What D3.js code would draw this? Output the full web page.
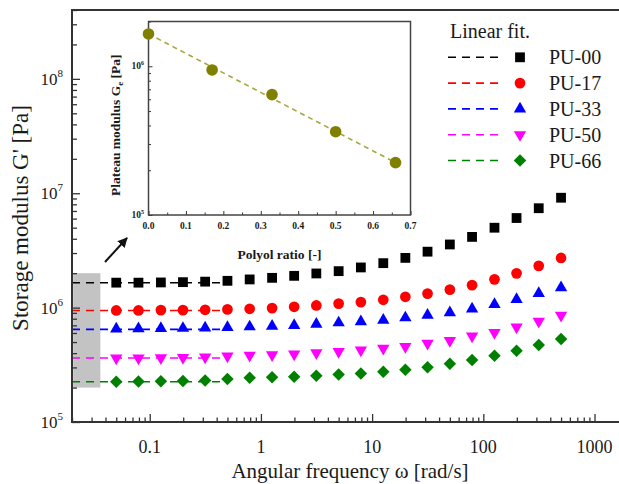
<!DOCTYPE html>
<html><head><meta charset="utf-8">
<script src="https://cdn.jsdelivr.net/npm/d3@7"></script>
<style>
html,body{margin:0;padding:0;background:#fff;}
svg{display:block;}
</style></head>
<body>
<svg id="chart" width="619" height="484" font-family="'Liberation Serif', 'DejaVu Serif', serif"></svg>
<script>
// ---- data ----
const frequencies = [0.05, 0.0792, 0.126, 0.199, 0.315, 0.5, 0.792, 1.26, 1.99, 3.15, 5, 7.92, 12.6, 19.9, 31.5, 50, 79.2, 126, 199, 315, 500];
const seriesNames = ["PU-00", "PU-17", "PU-33", "PU-50", "PU-66"];
const pu00 = [1.653e6, 1.653e6, 1.660e6, 1.670e6, 1.687e6, 1.715e6, 1.764e6, 1.821e6, 1.896e6, 1.989e6, 2.084e6, 2.245e6, 2.447e6, 2.722e6, 3.084e6, 3.565e6, 4.153e6, 4.995e6, 6.072e6, 7.396e6, 9.135e6];
const pu17 = [9.45e5, 9.45e5, 9.51e5, 9.51e5, 9.57e5, 9.65e5, 9.76e5, 9.90e5, 1.016e6, 1.045e6, 1.084e6, 1.117e6, 1.170e6, 1.243e6, 1.326e6, 1.436e6, 1.572e6, 1.767e6, 1.993e6, 2.318e6, 2.717e6];
const pu33 = [6.52e5, 6.54e5, 6.57e5, 6.60e5, 6.65e5, 6.72e5, 6.80e5, 6.89e5, 6.99e5, 7.18e5, 7.37e5, 7.55e5, 7.78e5, 8.15e5, 8.60e5, 9.04e5, 9.76e5, 1.066e6, 1.182e6, 1.330e6, 1.495e6];
const pu50 = [3.62e5, 3.62e5, 3.64e5, 3.66e5, 3.70e5, 3.77e5, 3.82e5, 3.87e5, 3.93e5, 4.03e5, 4.13e5, 4.25e5, 4.40e5, 4.56e5, 4.87e5, 5.15e5, 5.64e5, 6.05e5, 6.76e5, 7.59e5, 8.57e5];
const pu66 = [2.249e5, 2.258e5, 2.267e5, 2.281e5, 2.304e5, 2.374e5, 2.437e5, 2.457e5, 2.487e5, 2.537e5, 2.599e5, 2.652e5, 2.750e5, 2.869e5, 3.005e5, 3.231e5, 3.479e5, 3.793e5, 4.195e5, 4.706e5, 5.307e5];
const plateauModulus = [1.65e6, 9.45e5, 6.45e5, 3.63e5, 2.25e5];
const polyolRatio = [0, 0.17, 0.33, 0.5, 0.66];
const fitRange = [0.02, 0.45];
const shadeX = [0.0205, 0.036];
const shadeY = [2e5, 2e6];
const xTickLabels = ["0.1", "1", "10", "100", "1000"];
const xTickValues = [0.1, 1, 10, 100, 1000];
const yTickValues = [1e5, 1e6, 1e7, 1e8];
const yTickExp = ["5", "6", "7", "8"];
const insetXTicks = [0, 0.1, 0.2, 0.3, 0.4, 0.5, 0.6, 0.7];
const insetXLabels = ["0.0", "0.1", "0.2", "0.3", "0.4", "0.5", "0.6", "0.7"];
const insetYTicks = [1e5, 1e6];
const insetYExp = ["5", "6"];

const allSeries = [pu00, pu17, pu33, pu50, pu66];
const colors = ["#000000", "#ff0000", "#0000ff", "#ff00ff", "#008000"];
const FONT = "'Liberation Serif', 'DejaVu Serif', serif";

// ---- layout ----
const svg = d3.select("#chart");
const M = {left: 72, top: 10, right: 628, bottom: 422};
const x = d3.scaleLog().domain([0.02, 2000]).range([M.left, M.right]);
const y = d3.scaleLog().domain([1e5, 4e8]).range([M.bottom, M.top]);

function minorTicks(lo, hi) {
  const out = [];
  for (let e = Math.floor(Math.log10(lo)); e <= Math.ceil(Math.log10(hi)); e++) {
    for (let m = 2; m <= 9; m++) {
      const v = m * Math.pow(10, e);
      if (v >= lo * 0.999 && v <= hi * 1.001) out.push(v);
    }
  }
  return out;
}

// shaded region
svg.append("rect")
  .attr("x", x(shadeX[0])).attr("y", y(shadeY[1]))
  .attr("width", x(shadeX[1]) - x(shadeX[0]))
  .attr("height", y(shadeY[0]) - y(shadeY[1]))
  .attr("fill", "#c3c3c3");

// fit lines
const fitG = svg.append("g");
plateauModulus.forEach((v, i) => {
  fitG.append("line")
    .attr("x1", x(fitRange[0])).attr("x2", x(fitRange[1]))
    .attr("y1", y(v)).attr("y2", y(v))
    .attr("stroke", colors[i]).attr("stroke-width", 1.6)
    .attr("stroke-dasharray", "8,6");
});

// markers
const symGen = [
  d3.symbol().type(d3.symbolSquare).size(96),
  d3.symbol().type(d3.symbolCircle).size(90),
  d3.symbol().type(d3.symbolTriangle).size(66),
  d3.symbol().type(d3.symbolTriangle).size(66),
  d3.symbol().type(d3.symbolSquare).size(78)
];
const rot = [0, 0, 0, 180, 45];
allSeries.forEach((vals, i) => {
  svg.append("g").selectAll("path")
    .data(vals.map((v, k) => [frequencies[k], v]))
    .join("path")
    .attr("d", symGen[i]())
    .attr("transform", d => `translate(${x(d[0])},${y(d[1])}) rotate(${rot[i]})`)
    .attr("fill", colors[i]);
});

// axes
const axisColor = "#333";
const gx = svg.append("g").attr("transform", `translate(0,${M.bottom})`);
gx.call(d3.axisBottom(x).tickValues(xTickValues).tickSizeInner(-8).tickSizeOuter(0).tickFormat(""));
gx.append("g").call(d3.axisBottom(x).tickValues(minorTicks(0.02, 2000).filter(v => !xTickValues.includes(v))).tickSizeInner(-4.5).tickSizeOuter(0).tickFormat(""));
gx.selectAll(".domain").remove();
gx.selectAll("line").attr("stroke", axisColor).attr("stroke-width", 1.3);

const gy = svg.append("g").attr("transform", `translate(${M.left},0)`);
gy.call(d3.axisLeft(y).tickValues(yTickValues).tickSizeInner(-8).tickSizeOuter(0).tickFormat(""));
gy.append("g").call(d3.axisLeft(y).tickValues(minorTicks(1e5, 4e8).filter(v => !yTickValues.includes(v))).tickSizeInner(-5).tickSizeOuter(0).tickFormat(""));
gy.selectAll(".domain").remove();
gy.selectAll("line").attr("stroke", axisColor).attr("stroke-width", 1.3);

// frame
svg.append("rect").attr("x", M.left).attr("y", M.top)
  .attr("width", M.right - M.left).attr("height", M.bottom - M.top)
  .attr("fill", "none").attr("stroke", axisColor).attr("stroke-width", 2);

// tick labels
svg.append("g").selectAll("text").data(xTickValues).join("text")
  .attr("x", d => x(d)).attr("y", 453).attr("text-anchor", "middle")
  .attr("font-family", FONT)
  .attr("font-size", 18).attr("fill", "#1a1a1a")
  .text((d, i) => xTickLabels[i]);

const yl = svg.append("g").selectAll("text").data(yTickValues).join("text")
  .attr("x", 63).attr("y", d => y(d) + 6).attr("text-anchor", "end")
  .attr("font-family", FONT)
  .attr("font-size", 17).attr("fill", "#1a1a1a");
yl.append("tspan").text("10");
yl.append("tspan").attr("font-size", 11).attr("dy", -8).text((d, i) => yTickExp[i]);

// axis titles
svg.append("text").attr("x", 350).attr("y", 478).attr("text-anchor", "middle")
  .attr("font-family", FONT)
  .attr("font-size", 21).attr("fill", "#1a1a1a").text("Angular frequency ω [rad/s]");
svg.append("text").attr("transform", `translate(28,${(M.top + M.bottom) / 2 + 2}) rotate(-90)`)
  .attr("font-family", FONT)
  .attr("text-anchor", "middle").attr("font-size", 23).attr("fill", "#1a1a1a")
  .text("Storage modulus G' [Pa]");

// legend
const lg = svg.append("g");
lg.append("text").attr("x", 450).attr("y", 38).attr("font-family", FONT).attr("font-size", 20).attr("fill", "#1a1a1a").text("Linear fit.");
seriesNames.forEach((name, i) => {
  const cy = 57.3 + i * 25.8;
  lg.append("line").attr("x1", 448).attr("x2", 498).attr("y1", cy).attr("y2", cy)
    .attr("stroke", colors[i]).attr("stroke-width", 1.6).attr("stroke-dasharray", "8,6");
  lg.append("path").attr("d", symGen[i]()).attr("fill", colors[i])
    .attr("transform", `translate(520,${cy}) rotate(${rot[i]})`);
  lg.append("text").attr("x", 549).attr("y", cy + 7).attr("font-family", FONT).attr("font-size", 20).attr("fill", "#1a1a1a").text(name);
});

// arrow
svg.append("defs").append("marker").attr("id", "ah")
  .attr("viewBox", "0 0 10 10").attr("refX", 9).attr("refY", 5)
  .attr("markerWidth", 5).attr("markerHeight", 5).attr("orient", "auto")
  .append("path").attr("d", "M0,0 L10,5 L0,10 z").attr("fill", "#111");
svg.append("line").attr("x1", 105).attr("y1", 262).attr("x2", 127).attr("y2", 238)
  .attr("stroke", "#111").attr("stroke-width", 2).attr("marker-end", "url(#ah)");

// ---- inset ----
const I = {left: 148.5, top: 21.5, right: 410.5, bottom: 215};
const ix = d3.scaleLinear().domain([0, 0.7]).range([I.left, I.right]);
const iy = d3.scaleLog().domain([1e5, 2e6]).range([I.bottom, I.top]);
svg.append("rect").attr("x", I.left).attr("y", I.top)
  .attr("width", I.right - I.left).attr("height", I.bottom - I.top)
  .attr("fill", "#fff");

const igx = svg.append("g").attr("transform", `translate(0,${I.bottom})`);
igx.call(d3.axisBottom(ix).tickValues(insetXTicks).tickSizeInner(-4).tickSizeOuter(0).tickFormat(""));
igx.append("g").call(d3.axisBottom(ix).tickValues(insetXTicks.slice(0, -1).map(v => v + 0.05)).tickSizeInner(-2.5).tickSizeOuter(0).tickFormat(""));
igx.selectAll(".domain").remove();
igx.selectAll("line").attr("stroke", axisColor).attr("stroke-width", 1);

const igy = svg.append("g").attr("transform", `translate(${I.left},0)`);
igy.call(d3.axisLeft(iy).tickValues(insetYTicks).tickSizeInner(-4).tickSizeOuter(0).tickFormat(""));
igy.append("g").call(d3.axisLeft(iy).tickValues(minorTicks(1e5, 2e6).filter(v => !insetYTicks.includes(v))).tickSizeInner(-2.5).tickSizeOuter(0).tickFormat(""));
igy.selectAll(".domain").remove();
igy.selectAll("line").attr("stroke", axisColor).attr("stroke-width", 1);

svg.append("rect").attr("x", I.left).attr("y", I.top)
  .attr("width", I.right - I.left).attr("height", I.bottom - I.top)
  .attr("fill", "none").attr("stroke", "#444").attr("stroke-width", 1.5);

// inset fit line and points
svg.append("line")
  .attr("x1", ix(polyolRatio[0])).attr("y1", iy(plateauModulus[0]))
  .attr("x2", ix(polyolRatio[polyolRatio.length - 1])).attr("y2", iy(plateauModulus[plateauModulus.length - 1]))
  .attr("stroke", "#a6a640").attr("stroke-width", 1.6).attr("stroke-dasharray", "5,4");
svg.append("g").selectAll("circle").data(polyolRatio).join("circle")
  .attr("cx", d => ix(d)).attr("cy", (d, i) => iy(plateauModulus[i]))
  .attr("r", 5.8).attr("fill", "#808000");

// inset labels
svg.append("g").selectAll("text").data(insetXTicks).join("text")
  .attr("x", d => ix(d)).attr("y", 228.5).attr("text-anchor", "middle")
  .attr("font-family", FONT)
  .attr("font-size", 9.5).attr("font-weight", "bold").attr("fill", "#1a1a1a")
  .text((d, i) => insetXLabels[i]);
const iyl = svg.append("g").selectAll("text").data(insetYTicks).join("text")
  .attr("x", 144).attr("y", d => iy(d) + 3).attr("text-anchor", "end")
  .attr("font-family", FONT)
  .attr("font-size", 9.5).attr("font-weight", "bold").attr("fill", "#1a1a1a");
iyl.append("tspan").text("10");
iyl.append("tspan").attr("font-size", 6).attr("dy", -4).text((d, i) => insetYExp[i]);

svg.append("text").attr("x", (I.left + I.right) / 2).attr("y", 259).attr("text-anchor", "middle")
  .attr("font-family", FONT)
  .attr("font-size", 13.5).attr("font-weight", "bold").attr("fill", "#1a1a1a").text("Polyol ratio [-]");
const iyt = svg.append("text").attr("transform", `translate(120,${(I.top + I.bottom) / 2 + 7}) rotate(-90)`)
  .attr("font-family", FONT)
  .attr("text-anchor", "middle").attr("font-size", 13.5).attr("font-weight", "bold").attr("fill", "#1a1a1a");
iyt.append("tspan").text("Plateau modulus G");
iyt.append("tspan").attr("font-size", 9).attr("dy", 3).text("e");
iyt.append("tspan").attr("dy", -3).text(" [Pa]");
</script>
</body></html>
